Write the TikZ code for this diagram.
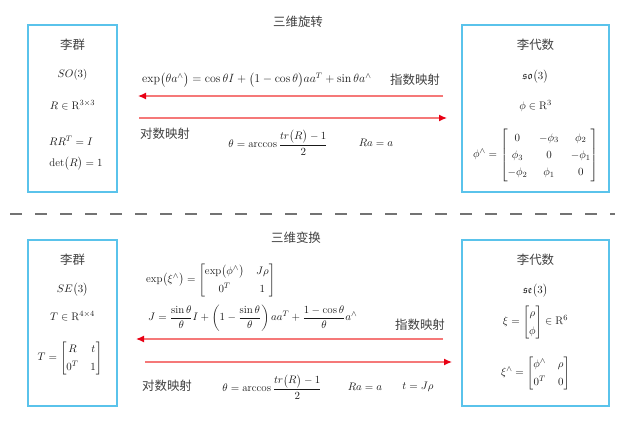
\documentclass[tikz,border=0pt]{standalone}
\usepackage{amsmath,amssymb}
\usepackage{fontspec}
\newfontfamily\cjk{Noto Sans CJK SC}
\usepackage{tikz}
\usetikzlibrary{positioning,calc,arrows.meta}
\definecolor{boxblue}{RGB}{90,195,235}
\definecolor{maplight}{RGB}{245,120,120}
\definecolor{mapred}{RGB}{232,0,20}
\setlength{\arraycolsep}{6pt}
\tikzset{
  grpbox/.style  = {draw=boxblue, line width=1.5pt, inner sep=0pt},
  lbl/.style     = {font=\cjk\fontsize{12.5}{14}\selectfont, inner sep=0pt, text=black!75},
  eq/.style      = {font=\fontsize{11}{17.5}\selectfont, inner sep=0pt, text=black!90},
  bigeq/.style   = {font=\fontsize{12}{17.5}\selectfont, inner sep=0pt, text=black!90},
  mapl/.style    = {draw=maplight, line width=1.3pt,
                    -{Latex[length=8bp,width=7bp,color=mapred]}},
  sep/.style     = {draw=black!55, line width=1.4pt, dash pattern=on 12bp off 13bp},
}
\begin{document}
\begin{tikzpicture}[x=1bp,y=-1bp]
  \useasboundingbox (0,0) rectangle (627,425);
  % rotation
  \node[grpbox, minimum width=89bp, minimum height=167bp] (SO) at (72.5,108.5) {};
  \node[grpbox, minimum width=147bp, minimum height=167bp] (so) at (535.5,108.5) {};
  \node[lbl] (t1) at (298,22) {三维旋转};
  \node[lbl] (SOa) at (72.5,45) {李群};
  \node[eq] (SOb) at (72.5,75) {$SO(3)$};
  \node[eq] (SOc) at (72.5,105) {$R\in\mathrm{R}^{3\times3}$};
  \node[eq] (SOd) at (71,141) {$RR^T=I$};
  \node[eq] (SOe) at (76,164) {$\det\bigl(R\bigr)=1$};
  \node[lbl] (soa) at (535.5,45) {李代数};
  \node[eq] (sob) at (535.5,77) {$\mathfrak{so}\bigl(3\bigr)$};
  \node[eq] (soc) at (535.5,106) {$\phi\in\mathrm{R}^3$};
  \node[eq] (sod) at (535.5,155) {$\phi^\wedge=\begin{bmatrix}0&-\phi_3&\phi_2\\ \phi_3&0&-\phi_1\\ -\phi_2&\phi_1&0\end{bmatrix}$};
  \node[bigeq, anchor=west] (e1) at (142,80)
    {$\exp\bigl(\theta a^\wedge\bigr)=\cos\theta I+\bigl(1-\cos\theta\bigr)aa^T+\sin\theta a^\wedge$};
  \node[lbl] (m1) at (415,80) {指数映射};
  \coordinate (p1) at (443,96);
  \coordinate (q1) at (138,96);
  \coordinate (p2) at (139,118);
  \coordinate (q2) at (447,118);
  \draw[mapl] (p1) -- (q1);
  \draw[mapl] (p2) -- (q2);
  \node[lbl] (l1) at (165,134) {对数映射};
  \node[eq] (e2) at (278,143) {$\theta=\arccos\dfrac{tr\bigl(R\bigr)-1}{2}$};
  \node[eq] (e3) at (376,143) {$Ra=a$};
  % separator
  \coordinate (d1) at (10,214);
  \coordinate (d2) at (615,214);
  \draw[sep] (d1) -- (d2);
  % transform
  \node[grpbox, minimum width=89bp, minimum height=166bp] (SE) at (72.5,323) {};
  \node[grpbox, minimum width=147bp, minimum height=166bp] (se) at (535.5,323) {};
  \node[lbl] (t2) at (296,238) {三维变换};
  \node[lbl] (SEa) at (72.5,260) {李群};
  \node[eq] (SEb) at (72.5,290) {$SE\bigl(3\bigr)$};
  \node[eq] (SEc) at (72.5,316) {$T\in\mathrm{R}^{4\times4}$};
  \node[eq] (SEd) at (70,358) {$T=\begin{bmatrix}R&t\\0^T&1\end{bmatrix}$};
  \node[lbl] (sea) at (535.5,260) {李代数};
  \node[eq] (seb) at (535.5,291) {$\mathfrak{se}\bigl(3\bigr)$};
  \node[eq] (sec) at (535.5,322) {$\xi=\begin{bmatrix}\rho\\ \phi\end{bmatrix}\in\mathrm{R}^6$};
  \node[eq] (sed) at (535.5,373) {$\xi^\wedge=\begin{bmatrix}\phi^\wedge&\rho\\0^T&0\end{bmatrix}$};
  \node[eq, anchor=west] (f1) at (146,280)
    {$\exp\bigl(\xi^\wedge\bigr)=\begin{bmatrix}\exp\bigl(\phi^\wedge\bigr)&J\rho\\0^T&1\end{bmatrix}$};
  \node[eq, anchor=west] (f2) at (148,318)
    {$J=\dfrac{\sin\theta}{\theta}I+\left(1-\dfrac{\sin\theta}{\theta}\right)aa^T+\dfrac{1-\cos\theta}{\theta}a^\wedge$};
  \node[lbl] (m2) at (420,325) {指数映射};
  \coordinate (p3) at (443,339);
  \coordinate (q3) at (136,339);
  \coordinate (p4) at (145,362);
  \coordinate (q4) at (452,362);
  \draw[mapl] (p3) -- (q3);
  \draw[mapl] (p4) -- (q4);
  \node[lbl] (l2) at (167,386) {对数映射};
  \node[eq] (f3) at (272,387) {$\theta=\arccos\dfrac{tr\bigl(R\bigr)-1}{2}$};
  \node[eq] (f4) at (365,387) {$Ra=a$};
  \node[eq] (f5) at (418,387) {$t=J\rho$};
\end{tikzpicture}
\end{document}
